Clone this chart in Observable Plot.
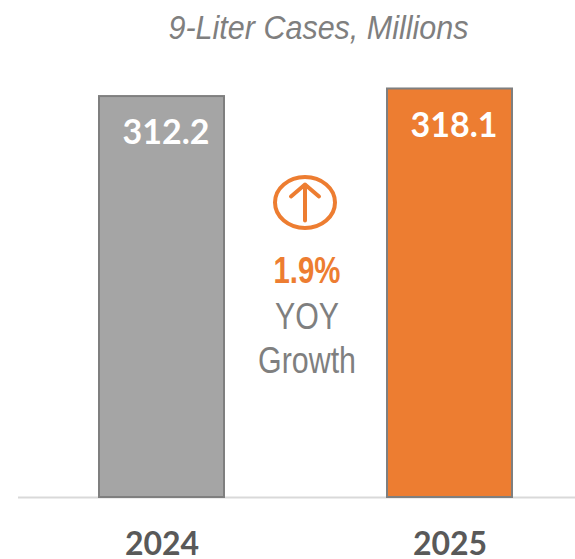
<!DOCTYPE html>
<html>
<head>
<meta charset="utf-8">
<script src="https://cdn.jsdelivr.net/npm/d3@7"></script>
<script src="https://cdn.jsdelivr.net/npm/@observablehq/plot@0.6"></script>
<style>
html,body{margin:0;padding:0;background:#fff;overflow:hidden}
svg{display:block}
</style>
</head>
<body>
<div id="chart"></div>
<script>
const years = ["2024", "2025"];
const cases = [312.2, 318.1];
const barColors = ["#A5A5A5", "#ED7D31"];
const chartTitle = "9-Liter Cases, Millions";
const growthValue = "1.9%";
const growthLabel = ["YOY", "Growth"];

const bars = years.map((year, i) => ({year, value: cases[i], color: barColors[i]}));
const sans = "'Liberation Sans',Arial,sans-serif";
const sideFont = "Lato,'Open Sans',sans-serif";

const upArrowInEllipse = {
  draw(ctx) {
    const rx = 30, ry = 25.5, k = 0.5523;
    ctx.moveTo(rx, 0);
    ctx.bezierCurveTo(rx, ry * k, rx * k, ry, 0, ry);
    ctx.bezierCurveTo(-rx * k, ry, -rx, ry * k, -rx, 0);
    ctx.bezierCurveTo(-rx, -ry * k, -rx * k, -ry, 0, -ry);
    ctx.bezierCurveTo(rx * k, -ry, rx, -ry * k, rx, 0);
    ctx.closePath();
    ctx.moveTo(0, 18);
    ctx.lineTo(0, -18);
    ctx.moveTo(-14, -6);
    ctx.lineTo(0, -18);
    ctx.lineTo(14, -6);
  }
};

const chart = Plot.plot({
  width: 575,
  height: 559,
  marginTop: 0,
  marginLeft: 18,
  marginRight: 0,
  marginBottom: 62,
  style: {background: "#fff", overflow: "visible"},
  x: {domain: years, range: [17, 593], paddingInner: 0.566, paddingOuter: 0.283, label: null},
  y: {domain: [0, 387], range: [497, 0], axis: null},
  marks: [
    Plot.ruleY([0], {stroke: "#d9d9d9", strokeWidth: 2}),
    Plot.barY(bars, {x: "year", y: "value", fill: "color", stroke: "#7f7f7f", strokeWidth: 2}),
    Plot.text(bars, {x: "year", y: "value", text: d => d.value.toFixed(1), dx: 4, dy: 37,
      fill: "#fff", fontFamily: sideFont, fontWeight: 700, fontSize: 34}),
    Plot.axisX({tickSize: 0, tickPadding: 35, fontSize: 32, fontWeight: 700, fontFamily: sideFont,
      color: "#595959", label: null}),
    Plot.text([chartTitle], {frameAnchor: "top", dx: 21.5, dy: 14, text: d => d, fill: "#7f7f7f",
      fontFamily: sans, fontStyle: "italic", fontSize: 34}),
    Plot.dot([growthValue], {frameAnchor: "top", dx: 8, dy: 202, symbol: upArrowInEllipse,
      stroke: "#ED7D31", strokeWidth: 4, strokeLinecap: "round", strokeLinejoin: "round", fill: "none"}),
    Plot.text([growthValue], {frameAnchor: "top", dx: 10, dy: 256, text: d => d, fill: "#ED7D31",
      fontFamily: sans, fontWeight: 700, fontSize: 37}),
    Plot.text([growthLabel[0]], {frameAnchor: "top", dx: 10, dy: 302, text: d => d, fill: "#7f7f7f",
      fontFamily: sans, fontSize: 37}),
    Plot.text([growthLabel[1]], {frameAnchor: "top", dx: 10, dy: 346, text: d => d, fill: "#7f7f7f",
      fontFamily: sans, fontSize: 37})
  ]
});

// The reference's text is horizontally condensed; fit these labels to their read widths.
const fittedWidths = new Map([[chartTitle, 300], [growthValue, 67], [growthLabel[0], 64], [growthLabel[1], 98]]);
chart.querySelectorAll("text").forEach(t => {
  const w = fittedWidths.get(t.textContent);
  if (w) {
    t.setAttribute("textLength", w);
    t.setAttribute("lengthAdjust", "spacingAndGlyphs");
  }
});
document.getElementById("chart").append(chart);
</script>
</body>
</html>
